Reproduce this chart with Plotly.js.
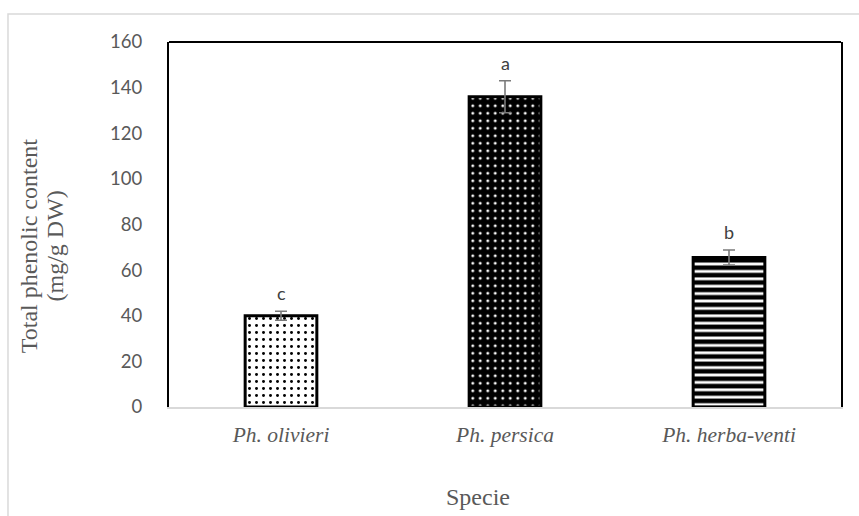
<!DOCTYPE html>
<html>
<head>
<meta charset="utf-8">
<script src="https://cdn.plot.ly/plotly-3.0.1.min.js"></script>
<style>html,body{margin:0;padding:0;background:#fff;}#chart{width:859px;height:516px;}</style>
</head>
<body>
<div id="chart"></div>
<script>
const species = ["Ph. olivieri", "Ph. persica", "Ph. herba-venti"];
const phenolic = [40, 136, 65.5];
const errors = [2, 7, 3.3];
const letters = ["c", "a", "b"];
const yTicks = [0, 20, 40, 60, 80, 100, 120, 140, 160];
const xTitle = "Specie";
const yTitleLines = ["Total phenolic content", "(mg/g DW)"];

const patterns = [
  {shape: ".", bgcolor: "#ffffff", fgcolor: "#000000", size: 7, solidity: 0.14, fillmode: "replace"},
  {shape: ".", bgcolor: "#000000", fgcolor: "#ffffff", size: 7.5, solidity: 0.12, fillmode: "replace"},
  {shape: "-", bgcolor: "#ffffff", fgcolor: "#000000", size: 7.4, solidity: 0.62, fillmode: "replace"}
];

const traces = species.map((s, i) => ({
  type: "bar",
  x: [s],
  y: [phenolic[i]],
  width: 0.32,
  marker: {
    color: patterns[i].bgcolor,
    line: {color: "#000000", width: 3},
    pattern: patterns[i]
  },
  error_y: {type: "data", array: [errors[i]], visible: true, color: "#7a7a7a", thickness: 1.6, width: 6},
  hoverinfo: "none",
  showlegend: false
}));

const serif = "'Liberation Serif', 'Times New Roman', serif";
const sans = "Lato, 'Open Sans', sans-serif";

const annotations = species.map((s, i) => ({
  x: s, y: phenolic[i] + errors[i], xref: "x", yref: "y",
  text: letters[i], showarrow: false, yanchor: "bottom", yshift: 5,
  font: {family: sans, size: 18, color: "#404040"}
}));
annotations.push({
  xref: "paper", yref: "paper", x: 0.46, y: -0.246, xanchor: "center", yanchor: "middle",
  text: xTitle, showarrow: false, font: {family: serif, size: 24, color: "#595959"}
});
const yTitleX = [-0.208, -0.169];
yTitleLines.forEach((t, i) => annotations.push({
  xref: "paper", yref: "paper", x: yTitleX[i], y: 0.441, xanchor: "center", yanchor: "middle",
  text: t, textangle: -90, showarrow: false, font: {family: serif, size: 24, color: "#595959"}
}));

const layout = {
  width: 859, height: 516,
  margin: {l: 169, r: 18, t: 42, b: 109},
  paper_bgcolor: "#ffffff", plot_bgcolor: "#ffffff",
  bargap: 0.68,
  xaxis: {
    type: "category",
    showgrid: false, zeroline: false,
    showline: true, linecolor: "#d9d9d9", linewidth: 2,
    ticks: "", ticklabelstandoff: 7,
    tickfont: {family: serif, size: 21.5, color: "#595959", style: "italic"}
  },
  yaxis: {
    range: [0, 160], tickvals: yTicks, ticktext: yTicks.map(String),
    showgrid: false, zeroline: false,
    showline: true, linecolor: "#000000", linewidth: 2, mirror: true,
    ticks: "", ticklabelstandoff: 21,
    tickfont: {family: sans, size: 18.5, color: "#595959"}
  },
  shapes: [
    {type: "line", xref: "paper", yref: "paper", x0: 0, x1: 1, y0: 1, y1: 1, line: {color: "#000000", width: 2}},
    {type: "rect", xref: "paper", yref: "paper", x0: -0.2396, x1: 1.03, y0: -0.35, y1: 1.0767, line: {color: "#d9d9d9", width: 1.5}, layer: "below"}
  ],
  annotations: annotations
};

Plotly.newPlot("chart", traces, layout, {displayModeBar: false, staticPlot: true});
</script>
</body>
</html>
